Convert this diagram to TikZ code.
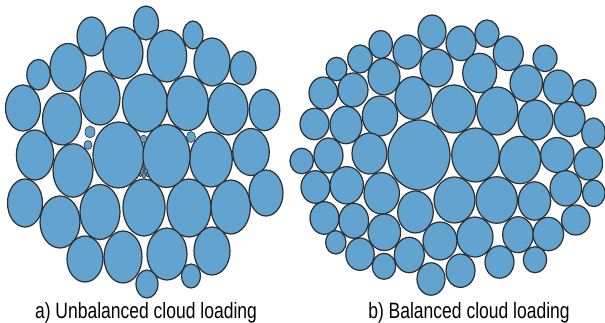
\documentclass[tikz,border=0pt]{standalone}
\usepackage{fontspec}
\setmainfont{Liberation Sans}
\definecolor{cloudfill}{RGB}{98,163,207}
\definecolor{cloudline}{RGB}{45,45,45}
\begin{document}
\begin{tikzpicture}[x=1pt,y=-1pt,
  vm/.style={fill=cloudfill,draw=cloudline,line width=1.2pt},
  tinyvm/.style={fill=cloudfill,draw=cloudline,line width=0.6pt},
  caption/.style={anchor=base,inner sep=0pt,font=\fontsize{17.5}{20}\selectfont}]
\useasboundingbox (0,0) rectangle (605,323);

% a) unbalanced loading: VMs of very different sizes
\foreach \x/\y/\a/\b in {
  146/23/12.5/17, 193/35/10/14, 91.5/36.5/14.5/19.5, 123/53/20/26,
  167/56/19.7/26, 212/62/18/24, 243/68/13/17, 38.5/74.7/11.7/15.3,
  68/67.5/18/24, 23/108/17.5/23, 62/119/19.5/26, 100/98/20/27,
  145/103/22.5/29, 187.5/103.3/20.8/27.3, 228/109/20/26, 264.5/110/15.3/20.7,
  35/155/18.7/25, 73/170.5/20/26.7, 211/159.5/21.3/27.5, 251/152/18.3/23.5,
  25/203/17.5/24, 60/222/20/26, 100/212/20/27.5, 144/207.5/21/28.5,
  189/208/22/29, 230.7/207/19.7/27, 266/193/17/23, 85/259/18/23,
  123/257/19/26, 167/254/20/26, 212/251/18/24, 191/276/9.5/12,
  147/284/11/14, 118.5/155/25.5/33, 166.5/156/23.5/31.5}
  \draw[vm] (\x,\y) ellipse [x radius=\a, y radius=\b];
\foreach \x/\y/\a/\b in {
  90/132/5/6, 88/145/4/4.5, 143.5/139/3.3/3.8, 191/137/4.5/5.5,
  144/167/1.5/1.8, 142/171/1.8/2, 146/171/1.8/2, 140.5/175/1.6/1.8,
  144/175.5/2/2.2, 147.5/175/1.6/1.8}
  \draw[tinyvm] (\x,\y) ellipse [x radius=\a, y radius=\b];

% b) balanced loading: VMs packed evenly
\foreach \x/\y/\a/\b in {
  432/31.7/14/16.7, 407.5/52/14.5/17, 380.7/44.5/11.7/14, 360/59/12.3/14,
  336.5/69/10.5/11.7, 323.3/93/14.3/16, 353/90/15/17, 384/76.7/16/18.3,
  413.3/98/18.3/21.3, 436.5/68/16.5/19, 314.5/124/14.5/15.7, 346/125/16/18.7,
  380/116/17.7/20, 487/33.7/12/13.7, 461/43.3/15/17.3, 508.3/53.3/15/17.3,
  545/58.3/12/13.3, 479.7/73/17/19.7, 526.3/83.3/16.3/18.3, 558.3/87/15/17,
  584.3/92.7/11.7/13.3, 454/109/22/24, 497.3/111/20.5/24, 535.5/120/17.5/20,
  569.5/119/15.5/17.5, 593.5/133/11.7/15, 301.7/161/11.7/12.8, 328.5/155.5/14.5/17.5,
  369.5/153.5/17.5/20.5, 419/155/31/35, 315.5/187/14.5/16.3, 346.7/185.3/16.7/18.7,
  381.7/193.3/17.7/20.7, 415.5/212/17.8/21, 324.5/218/14.5/16.3, 353.8/220.8/14.8/17.5,
  384.3/232.3/16.3/18.3, 335.8/242.3/10.2/11.7, 360/254.2/14.2/16.2, 384/266.3/11.7/13,
  409.3/255/15/17.7, 431/279/14/16.2, 475.5/155/23.8/27, 520/160/20.7/23.7,
  557.3/155/16.7/17.5, 588.3/163.7/14.3/16.3, 565.8/188.3/15.8/17.7, 593.8/193.3/11.2/13.3,
  454.5/200/20.5/23, 496.7/200/20.7/23.3, 534.5/201/16.2/19.2, 575.8/220/14.2/15,
  440/241/17/19, 475/237/18/20, 518/234.7/15.3/18, 548.3/234/15.3/16.7,
  499.5/262/14.5/16.2, 535/259.7/11.7/13, 460.5/270.7/14.5/16.7}
  \draw[vm] (\x,\y) ellipse [x radius=\a, y radius=\b];

% captions
\node[caption] (capA) at (146,318) {\scalebox{1}[1.27]{a) Unbalanced cloud loading}};
\node[caption] (capB) at (469,318) {\scalebox{1}[1.27]{b) Balanced cloud loading}};
\end{tikzpicture}
\end{document}
